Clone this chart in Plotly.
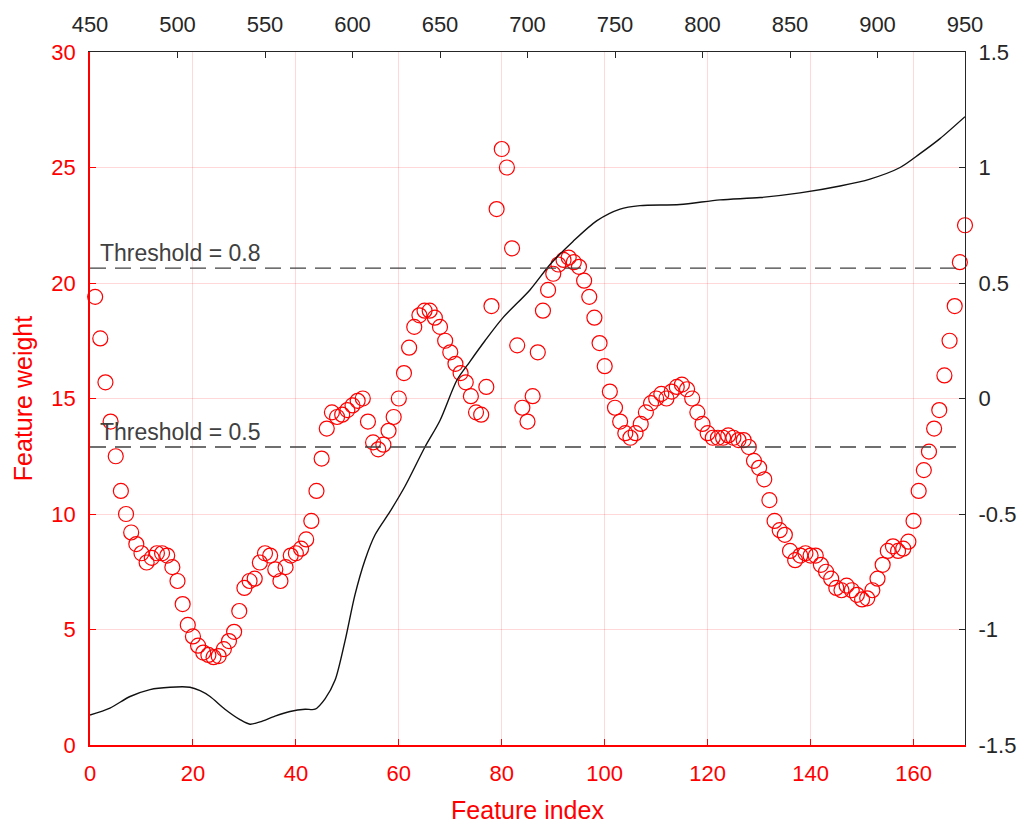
import plotly.graph_objects as go

# Feature weights (left axis) vs feature index (bottom axis)
feature_index = list(range(1, 171))
feature_weight = [
    19.4, 17.6, 15.7, 14.0, 12.5, 11.0, 10.0, 9.2, 8.7, 8.3,
    7.9, 8.1, 8.3, 8.3, 8.2, 7.7, 7.1, 6.1, 5.2, 4.7,
    4.3, 4.0, 3.9, 3.8, 3.85, 4.15, 4.5, 4.9, 5.8, 6.8,
    7.1, 7.2, 7.9, 8.3, 8.2, 7.6, 7.1, 7.7, 8.2, 8.3,
    8.5, 8.9, 9.7, 11.0, 12.4, 13.7, 14.4, 14.2, 14.3, 14.5,
    14.7, 14.9, 15.0, 14.0, 13.1, 12.8, 13.0, 13.6, 14.2, 15.0,
    16.1, 17.2, 18.1, 18.6, 18.8, 18.8, 18.5, 18.1, 17.5, 17.0,
    16.5, 16.1, 15.7, 15.1, 14.4, 14.3, 15.5, 19.0, 23.2, 25.8,
    25.0, 21.5, 17.3, 14.6, 14.0, 15.1, 17.0, 18.8, 19.7, 20.4,
    20.8, 21.0, 21.1, 20.9, 20.7, 20.1, 19.4, 18.5, 17.4, 16.4,
    15.3, 14.6, 14.0, 13.5, 13.3, 13.5, 13.9, 14.4, 14.8, 15.0,
    15.2, 15.0, 15.3, 15.5, 15.6, 15.4, 15.0, 14.4, 13.9, 13.5,
    13.3, 13.3, 13.3, 13.4, 13.3, 13.2, 13.2, 12.9, 12.3, 12.0,
    11.5, 10.6, 9.7, 9.3, 9.1, 8.4, 8.0, 8.2, 8.3, 8.2,
    8.2, 7.8, 7.5, 7.2, 6.8, 6.7, 6.9, 6.7, 6.5, 6.3,
    6.35, 6.7, 7.2, 7.8, 8.4, 8.6, 8.4, 8.5, 8.8, 9.7,
    11.0, 11.9, 12.7, 13.7, 14.5, 16.0, 17.5, 19.0, 20.9, 22.5,
]

# Spectrum curve (right axis) vs wavelength (top axis)
wavelength = [
    450, 461.4, 472.9, 484.3, 495.7, 507.1, 512.9, 518.6, 527.1, 535.7,
    541.4, 547.1, 555.7, 564.3, 572.9, 578.6, 584.3, 590, 595.7, 601.4,
    607.1, 612.9, 621.4, 630, 641.4, 650, 659.7, 667.1, 675.7, 686,
    701.4, 712.9, 726, 739.7, 752.9, 764.3, 787.1, 810, 832.9, 855.7,
    878.6, 895.7, 912.9, 924.3, 935.7, 950,
]
spectrum = [
    -1.37, -1.34, -1.29, -1.26, -1.25, -1.25, -1.265, -1.29, -1.345, -1.39,
    -1.41, -1.40, -1.375, -1.355, -1.345, -1.345, -1.30, -1.22, -1.05, -0.85,
    -0.70, -0.59, -0.49, -0.38, -0.21, -0.095, 0.08, 0.16, 0.25, 0.35,
    0.47, 0.58, 0.68, 0.77, 0.82, 0.835, 0.84, 0.86, 0.87, 0.89,
    0.92, 0.95, 1.00, 1.06, 1.125, 1.22,
]

thresholds = [0.8, 0.5]
threshold_labels = ["Threshold = 0.8", "Threshold = 0.5"]

bottom_ticks = [0, 20, 40, 60, 80, 100, 120, 140, 160]
left_ticks = [0, 5, 10, 15, 20, 25, 30]
top_ticks = [450, 500, 550, 600, 650, 700, 750, 800, 850, 900, 950]
right_ticks = [-1.5, -1, -0.5, 0, 0.5, 1, 1.5]
right_tick_text = ["-1.5", "-1", "-0.5", "0", "0.5", "1", "1.5"]

RED = "#ff0000"
DARK = "#262626"
FONT = "Liberation Sans, Arial, sans-serif"

fig = go.Figure()

fig.add_trace(go.Scatter(
    x=feature_index, y=feature_weight, mode="markers",
    marker=dict(symbol="circle-open", size=15, color=RED, line=dict(width=1.2, color=RED)),
    xaxis="x", yaxis="y", showlegend=False, cliponaxis=False,
))

fig.add_trace(go.Scatter(
    x=wavelength, y=spectrum, mode="lines",
    line=dict(color="#111111", width=1.4, shape="spline", smoothing=0.8),
    xaxis="x2", yaxis="y2", showlegend=False,
))

wmax = max(feature_weight)
for t, lab in zip(thresholds, threshold_labels):
    yv = t * wmax
    fig.add_shape(type="line", xref="x", yref="y", x0=0, x1=170, y0=yv, y1=yv,
                  line=dict(color="#404040", width=1.3, dash="16px,9px"))
    fig.add_annotation(x=1.6, y=yv, xref="x", yref="y", text=lab, showarrow=False,
                       xanchor="left", yanchor="bottom", yshift=0,
                       font=dict(size=23, color="#404040", family=FONT))

fig.update_layout(
    width=1027, height=826,
    margin=dict(l=90, r=62, t=52, b=81, autoexpand=False),
    plot_bgcolor="white", paper_bgcolor="white",
    font=dict(family=FONT),
    xaxis=dict(
        range=[0, 170], tickvals=bottom_ticks, ticks="inside", ticklen=6,
        tickcolor=RED, showline=True, linecolor=RED, linewidth=1.5,
        showgrid=True, gridcolor="rgba(255,0,0,0.15)", gridwidth=1, zeroline=False,
        tickfont=dict(size=22, color=RED), ticklabelstandoff=8, automargin=False,
        title=dict(text="Feature index", font=dict(size=25, color=RED), standoff=16),
    ),
    yaxis=dict(
        range=[0, 30], tickvals=left_ticks, ticks="inside", ticklen=6,
        tickcolor=RED, showline=True, linecolor=RED, linewidth=1.5,
        showgrid=True, gridcolor="rgba(255,0,0,0.15)", gridwidth=1, zeroline=False,
        tickfont=dict(size=22, color=RED), ticklabelstandoff=8, automargin=False,
        title=dict(text="Feature weight", font=dict(size=25, color=RED), standoff=12),
    ),
    xaxis2=dict(
        range=[450, 950], tickvals=top_ticks, overlaying="x", side="top", anchor="y2",
        ticks="inside", ticklen=6, tickcolor=DARK, showline=True, linecolor=DARK,
        linewidth=1.2, showgrid=False, zeroline=False, automargin=False,
        tickfont=dict(size=22, color=DARK), ticklabelstandoff=10,
    ),
    yaxis2=dict(
        range=[-1.5, 1.5], tickvals=right_ticks, ticktext=right_tick_text,
        overlaying="y", side="right", anchor="x2",
        ticks="inside", ticklen=6, tickcolor=DARK, showline=True, linecolor=DARK,
        linewidth=1.2, showgrid=False, zeroline=False, automargin=False,
        tickfont=dict(size=22, color=DARK), ticklabelstandoff=8,
    ),
)

fig.write_html("out.html")
